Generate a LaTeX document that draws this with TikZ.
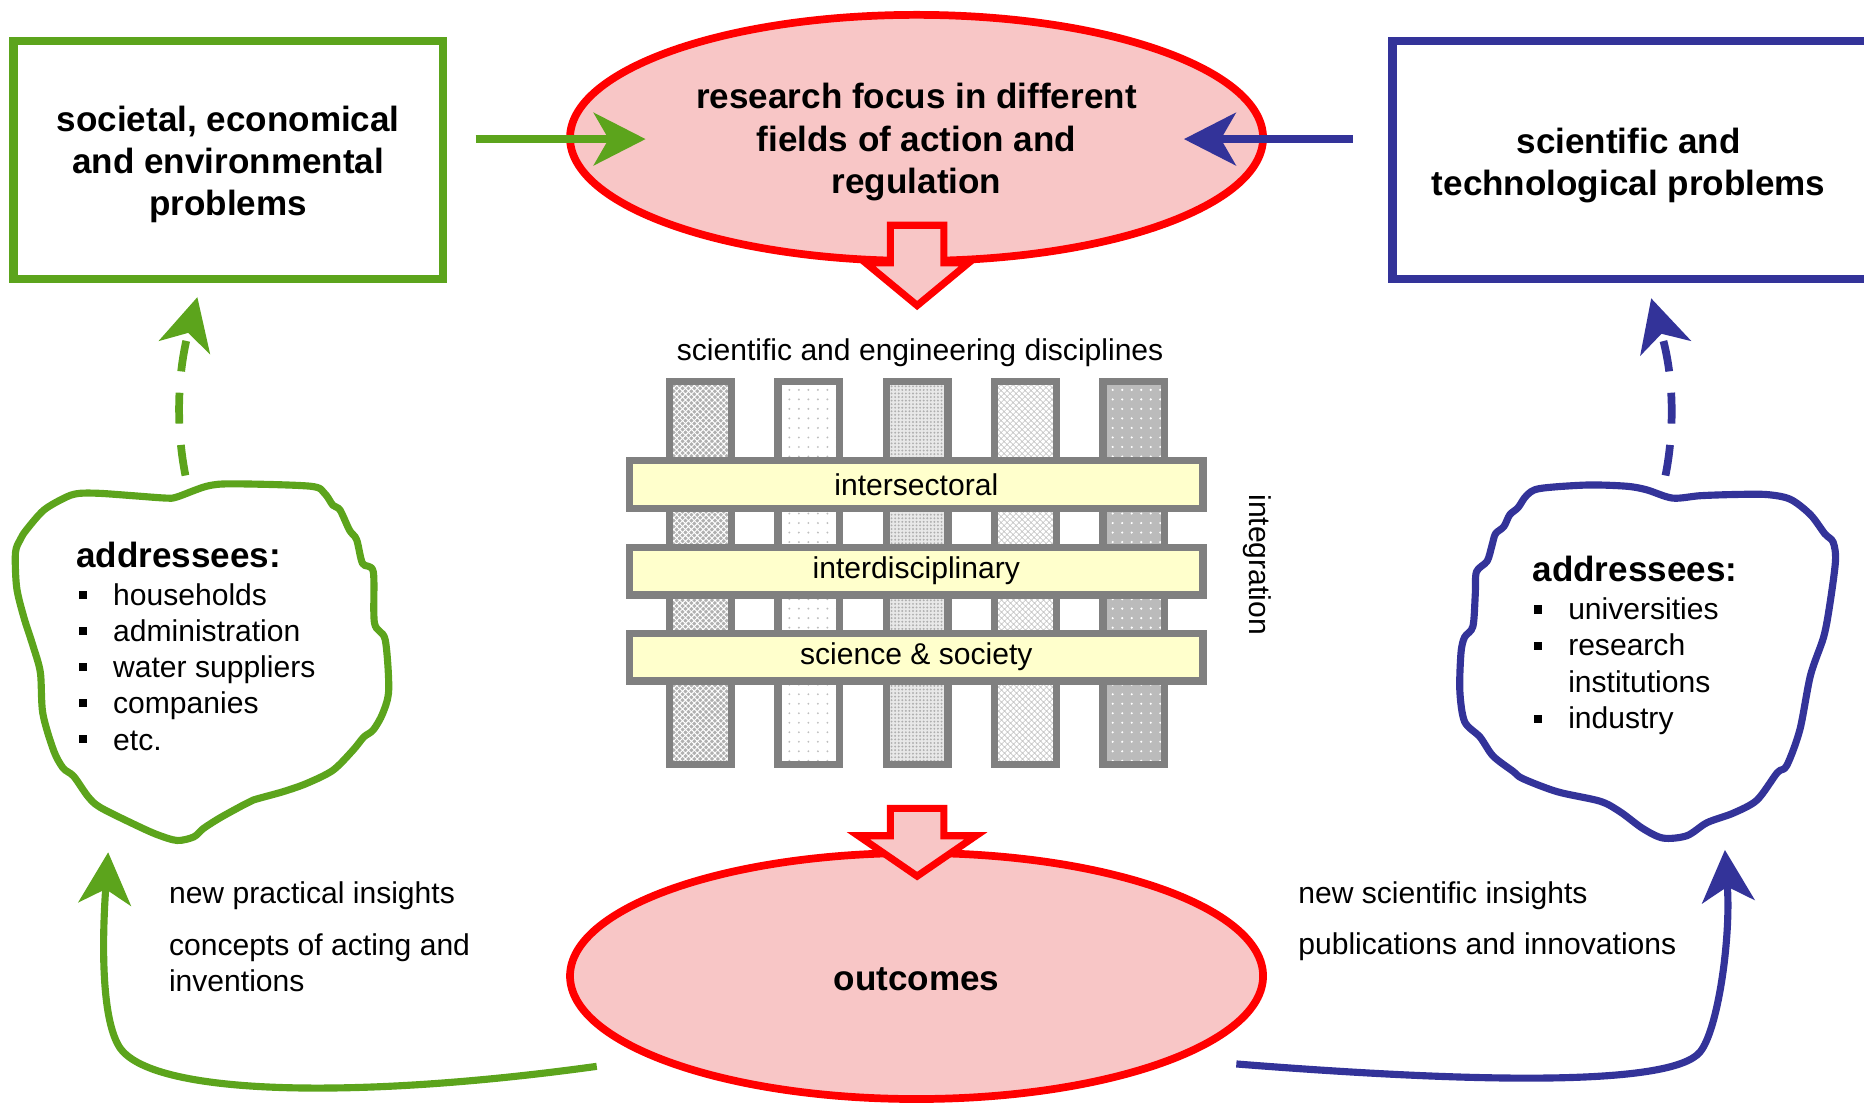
\documentclass[tikz,border=0pt]{standalone}
\usepackage{fontspec}
\setmainfont{Liberation Sans}
\usetikzlibrary{arrows.meta,shapes.geometric,patterns.meta}
\definecolor{cgreen}{RGB}{92,164,28}
\definecolor{cblue}{RGB}{51,51,153}
\definecolor{cred}{RGB}{255,0,0}
\definecolor{cpink}{RGB}{248,198,198}
\definecolor{cyell}{RGB}{255,255,204}
\definecolor{cgray}{RGB}{128,128,128}
\begin{document}
\begin{tikzpicture}[x=1pt,y=-1pt,
  bigtip/.tip={Stealth[length=44pt,width=45pt,inset=13pt,line width=0pt]},
  btxt/.style={font=\fontsize{29.5}{35.5}\selectfont\bfseries},
  txt/.style={font=\fontsize{25.3}{30}\selectfont},
  ctxt/.style={btxt, align=center, inner sep=0pt},
  probbox/.style={draw, line width=7pt, minimum width=361.5pt, minimum height=200.5pt, inner sep=0pt},
  oval/.style={ellipse, draw=cred, fill=cpink, line width=6.5pt, minimum width=583pt,
     minimum height=207pt, inner sep=0pt},
  barrow/.style={draw=cred, fill=cpink, line width=6pt, line join=miter},
  col/.style={draw=cgray, line width=6pt, minimum width=51.9pt, minimum height=322.5pt, inner sep=0pt},
  bar/.style={draw=cgray, fill=cyell, line width=6pt, minimum width=482.4pt, minimum height=40pt,
     inner sep=0pt, txt},
  lbl/.style={txt, anchor=base west, inner sep=0pt},
  head/.style={btxt, anchor=base west, inner sep=0pt},
  bullet/.style={fill=black, minimum size=7pt, inner sep=0pt},
  conn/.style={line width=6.5pt, -bigtip},
  dconn/.style={line width=6.5pt, dash pattern=on 26pt off 18pt, -bigtip},
  blob/.style={line width=6pt, line join=round}
]
\useasboundingbox (0,0) rectangle (1568,928);
\clip (0,0) rectangle (1568,928);

% problem boxes
\node[probbox, draw=cgreen] (lbox) at (192,134.5) {};
\node[ctxt] (lboxtxt) at (192,138.5) {societal, economical\\and environmental\\problems};
\node[probbox, draw=cblue, minimum width=400.75pt] (rbox) at (1371.6,134.5) {};
\node[ctxt] (rboxtxt) at (1370,139) {scientific and\\technological problems};

% ellipses
\node[oval] (focus) at (771,116) {};
\node[ctxt] (focustxt) at (771,119.5) {research focus in different\\fields of action and\\regulation};
\node[oval] (outc) at (771,821) {};
\node[ctxt] (outctxt) at (771,824) {outcomes};

% block arrows
\path[barrow] (749,189.5) -- (794,189.5) -- (794,221) -- (815,221) -- (771.5,257)
   -- (728,221) -- (749,221) -- cycle;
\path[barrow] (749,680) -- (794,680) -- (794,703) -- (821,703) -- (771.5,737)
   -- (722,703) -- (749,703) -- cycle;

% inputs into focus
\coordinate (ga1) at (400,117);
\coordinate (ga2) at (543,117);
\draw[conn, draw=cgreen] (ga1) -- (ga2);
\coordinate (ba1) at (1138,117);
\coordinate (ba2) at (996,117);
\draw[conn, draw=cblue] (ba1) -- (ba2);

% disciplines grid
\node[txt, anchor=base, inner sep=0pt] (disc) at (774,303) {scientific and engineering disciplines};
\node[col, preaction={fill={rgb,255:red,176;green,176;blue,176}},
      pattern={Hatch[angle=45,distance=3.5pt,line width=0.8pt]}, pattern color=white] (d1) at (589.2,482) {};
\node[col, preaction={fill=white},
      pattern={Dots[distance=8pt,radius=0.9pt]}, pattern color={rgb,255:red,190;green,190;blue,190}] (d2) at (680.35,482) {};
\node[col, preaction={fill={rgb,255:red,232;green,232;blue,232}},
      pattern={Dots[distance=3pt,radius=0.9pt]}, pattern color={rgb,255:red,175;green,175;blue,175}] (d3) at (771.5,482) {};
\node[col, preaction={fill=white},
      pattern={Hatch[angle=45,distance=4pt,line width=0.7pt]}, pattern color={rgb,255:red,195;green,195;blue,195}] (d4) at (862.65,482) {};
\node[col, preaction={fill={rgb,255:red,187;green,187;blue,187}},
      pattern={Dots[distance=8pt,radius=1pt]}, pattern color=white] (d5) at (953.8,482) {};

\node[bar] (b1) at (770.8,407.7) {intersectoral};
\node[bar] (b2) at (770.8,480.5) {interdisciplinary};
\node[bar] (b3) at (770.8,552.8) {science \& society};
\node[txt, rotate=-90, inner sep=0pt] (integ) at (1058,475) {integration};

% left addressees blob
\draw[blob, draw=cgreen] plot[smooth cycle, tension=0.5] coordinates {
 (149,418) (174,409) (196,407) (261,409) (273,415) (280,425) (286,429) (294,446)
 (300,454) (305,474) (314,481) (315,524) (324,538) (327,580) (322,600) (314,614)
 (306,620) (297,631) (280,648) (258,659) (238,666) (213,673) (205,677) (185,688)
 (171,697) (163,704) (149,707) (132,702) (112,693) (84,679) (74,670) (62,653)
 (53,646) (45,631) (36,600) (34,566) (28,544) (20,519) (14,494) (13,465) (17,454)
 (22,446) (37,429) (56,418) (67,415) (84,415) (112,417) (140,419)};
\node[head] (lhead) at (64,477.5) {addressees:};
\foreach \t [count=\i] in {households,administration,water suppliers,companies,etc.} {
  \node[lbl] (litem\i) at (95,{509.5+30.35*(\i-1)}) {\t};
  \node[bullet] (lbul\i) at (70,{500.5+30.35*(\i-1)}) {};
}

% right addressees blob
\draw[blob, draw=cblue] plot[smooth cycle, tension=0.5] coordinates {
 (1407,419) (1385,412) (1368,409) (1335,408) (1295,411) (1284,417) (1277,427)
 (1270,433) (1265,443) (1258,449) (1255,459) (1251,472) (1242,481) (1241,500)
 (1239,527) (1232,536) (1229,549) (1228,581) (1232,607) (1245,620) (1256,636)
 (1273,649) (1281,655) (1310,666) (1346,674) (1363,683) (1382,697) (1399,705)
 (1419,703) (1436,692) (1458,684) (1478,673) (1495,650) (1503,644) (1514,614)
 (1523,568) (1534,536) (1539,510) (1544,472) (1542,456) (1535,449) (1523,433)
 (1506,420) (1486,416) (1458,416) (1430,417)};
\node[head] (rhead) at (1289,489) {addressees:};
\node[lbl] (ritem1) at (1319,521) {universities};
\node[lbl] (ritem2) at (1319,551.7) {research};
\node[lbl] (ritem3) at (1319,582.4) {institutions};
\node[lbl] (ritem4) at (1319,613.1) {industry};
\node[bullet] (rbul1) at (1294,512.7) {};
\node[bullet] (rbul2) at (1294,543.4) {};
\node[bullet] (rbul4) at (1294,604.8) {};

% dashed feedback to problem boxes
\coordinate (gd1) at (156,400);
\coordinate (gd2) at (166,250);
\draw[dconn, draw=cgreen] (gd1) .. controls (149,365) and (148,320) .. (gd2);
\coordinate (bd1) at (1401,400);
\coordinate (bd2) at (1389,251);
\draw[dconn, draw=cblue] (bd1) .. controls (1408,365) and (1409,320) .. (bd2);

% outcome connectors
\coordinate (gs) at (502,897);
\coordinate (gm) at (100,880);
\coordinate (ge) at (91,717);
\draw[conn, line width=6pt, draw=cgreen] (gs) .. controls (300,925) and (125,922) .. (gm)
   .. controls (85,855) and (86,790) .. (ge);
\coordinate (bs) at (1040,895);
\coordinate (bm) at (1430,885);
\coordinate (be) at (1451,715);
\draw[conn, line width=6pt, draw=cblue] (bs) .. controls (1230,910) and (1405,915) .. (bm)
   .. controls (1445,867) and (1456,790) .. (be);

% outcome labels
\node[lbl] (lt1) at (142,760) {new practical insights};
\node[lbl] (lt2) at (142,804) {concepts of acting and};
\node[lbl] (lt3) at (142,834) {inventions};
\node[lbl] (rt1) at (1092,760) {new scientific insights};
\node[lbl] (rt2) at (1092,803) {publications and innovations};
\end{tikzpicture}
\end{document}
